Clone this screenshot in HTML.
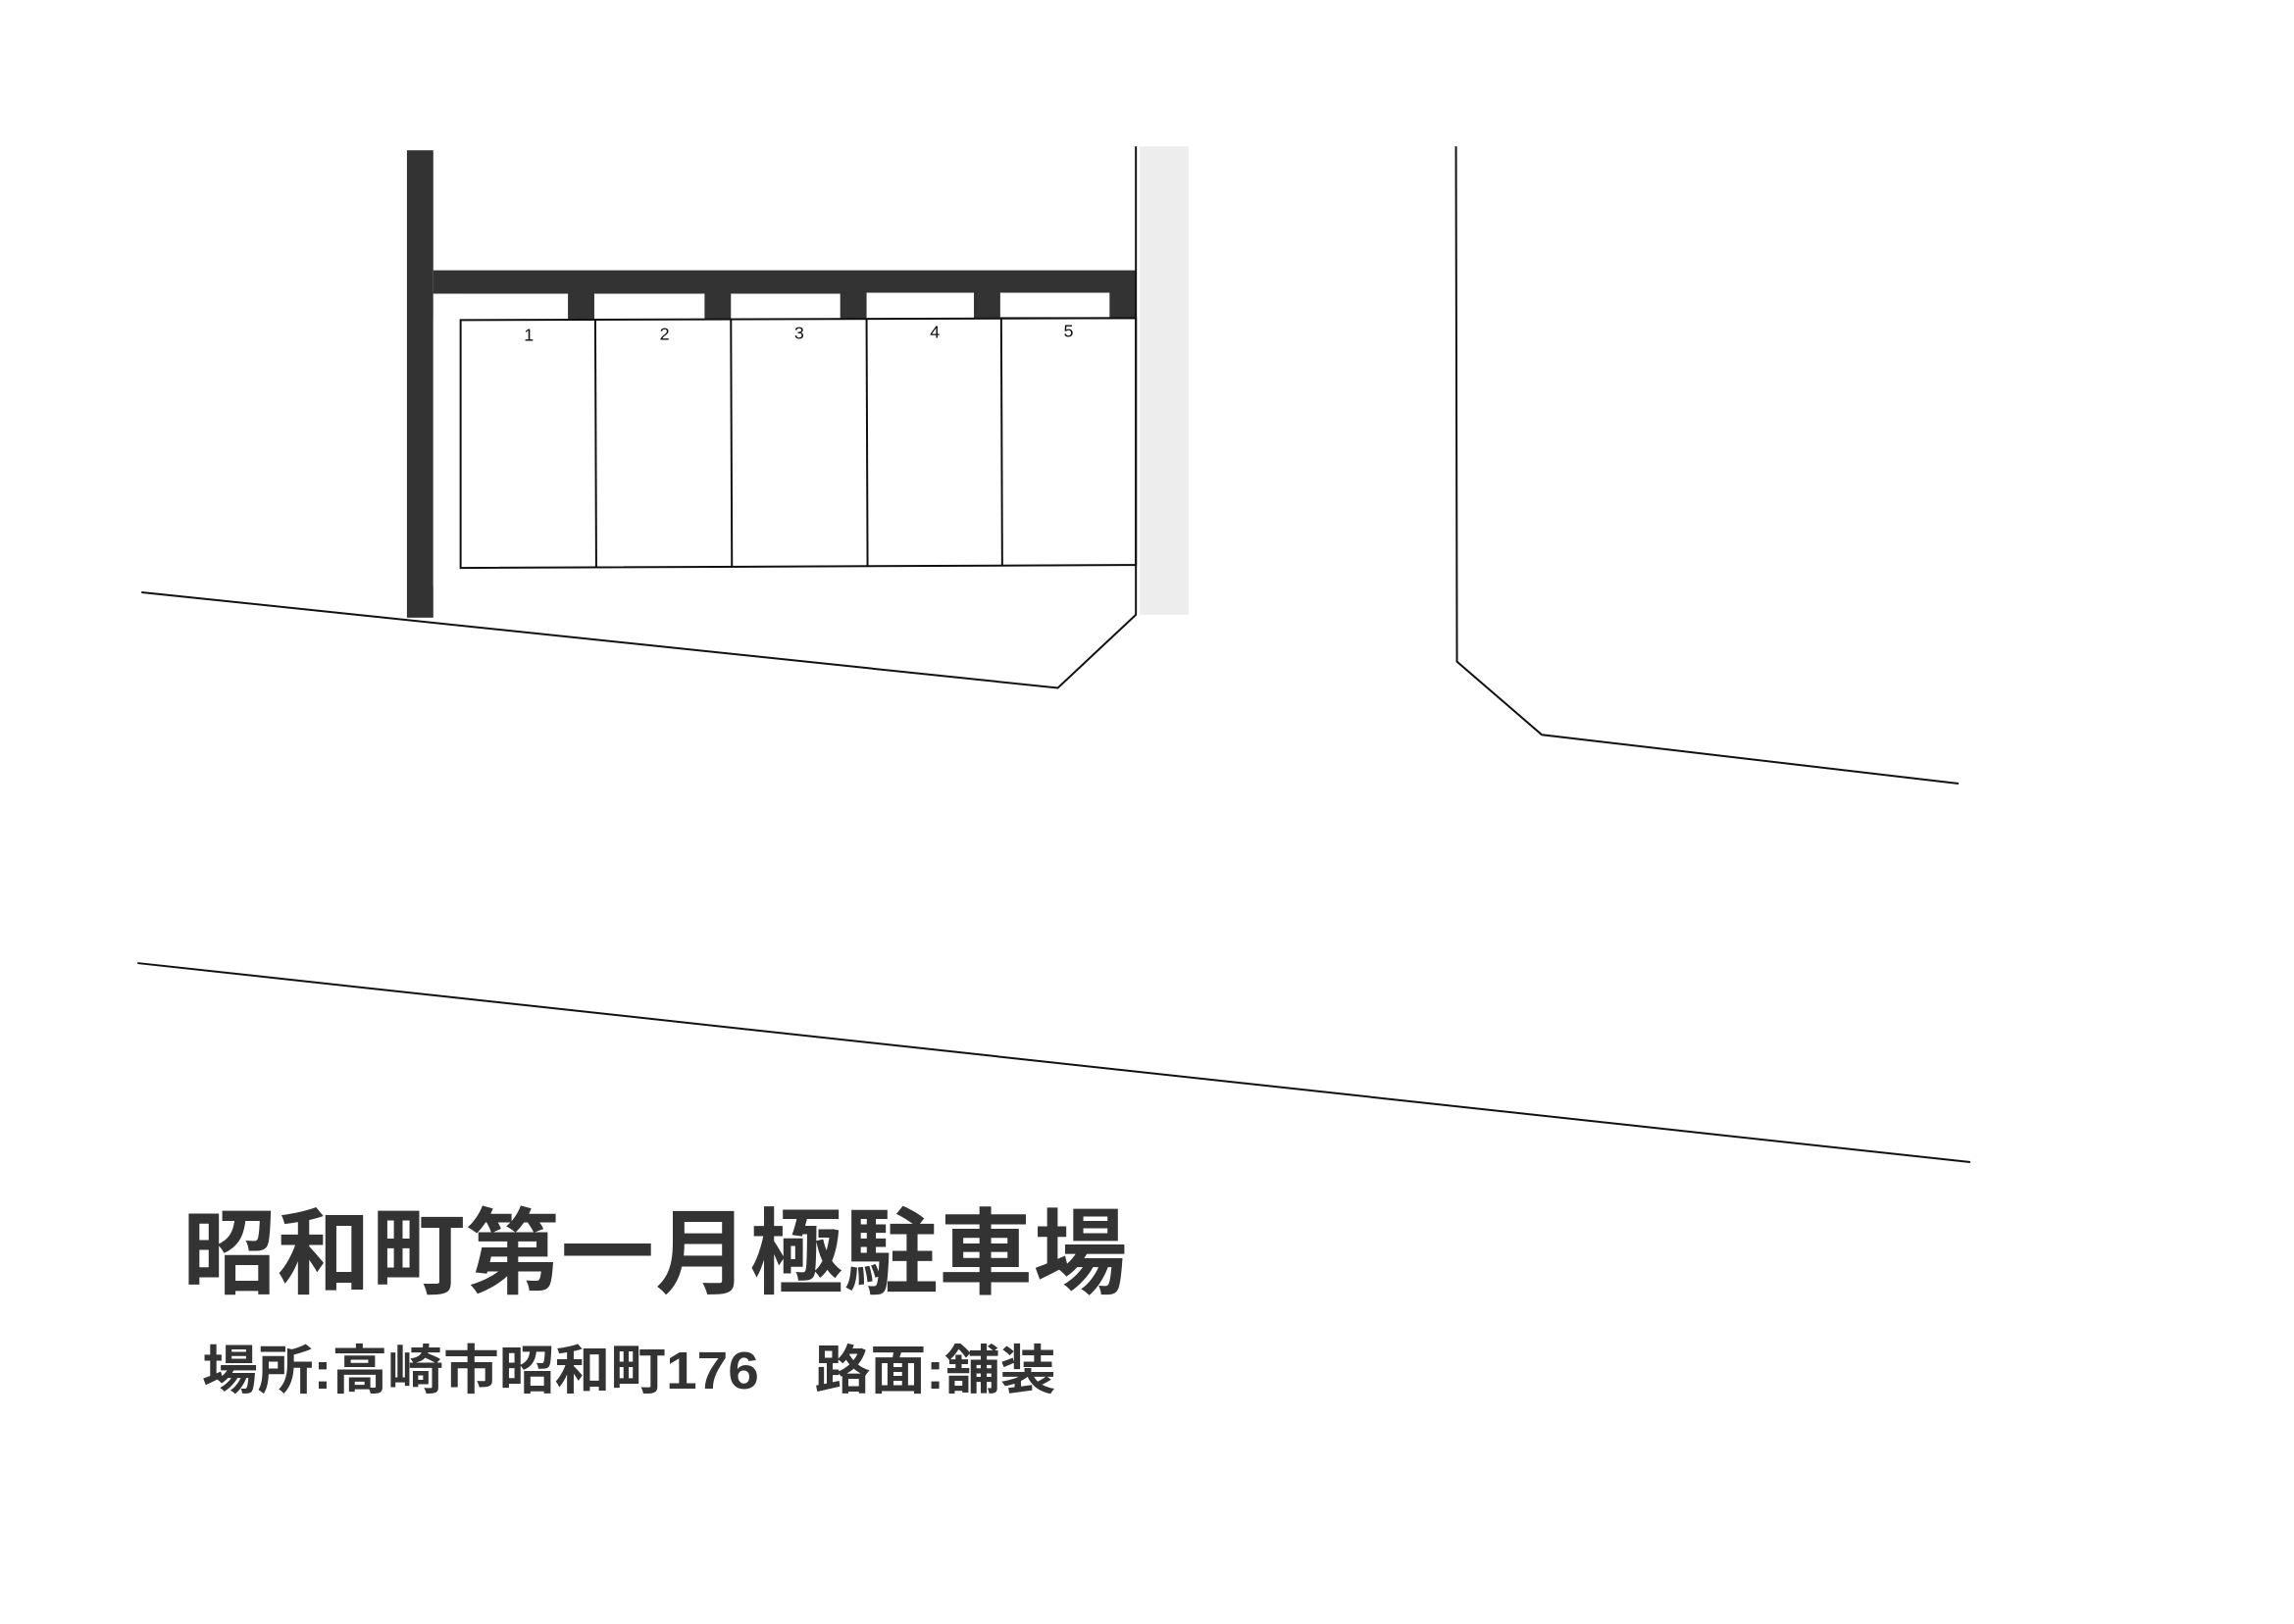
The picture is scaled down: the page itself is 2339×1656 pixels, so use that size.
<!DOCTYPE html>
<html><head><meta charset="utf-8"><style>html,body{margin:0;padding:0;background:#fff}svg{display:block}</style></head>
<body>
<svg width="2339" height="1656" viewBox="0 0 2339 1656" xmlns="http://www.w3.org/2000/svg">
<g transform="scale(0.995)">
<rect x="1168" y="150" width="50" height="480" fill="#ededed"/>
<rect x="417" y="154" width="27" height="479" fill="#333"/>
<rect x="444" y="277" width="720" height="50" fill="#333"/>
<g fill="#fff">
<rect x="446" y="301" width="136" height="27"/>
<rect x="609" y="301" width="113" height="26"/>
<rect x="749" y="301" width="112" height="26"/>
<rect x="888" y="300" width="110" height="26"/>
<rect x="1025" y="300" width="112" height="25"/>
</g>
<rect x="444" y="301" width="28" height="300" fill="#fff"/>
<g stroke="#111" stroke-width="2" fill="none">
<path d="M472 328 L1164 326 L1164 579 L472 582 Z"/>
<line x1="610" y1="328" x2="611" y2="582"/>
<line x1="749" y1="328" x2="750" y2="581"/>
<line x1="888" y1="327" x2="889" y2="580"/>
<line x1="1026" y1="327" x2="1027" y2="579"/>
<path d="M1164 150 L1164 630 L1084 705 L145 607"/>
<path d="M1492 150 L1493 678 L1580 753 L2007 803"/>
<line x1="141" y1="987" x2="2019" y2="1191"/>
</g>
<g font-family="Liberation Sans, sans-serif" font-size="18" fill="#111" text-anchor="middle">
<text x="542" y="349">1</text><text x="681" y="348">2</text><text x="819" y="347">3</text><text x="958" y="346">4</text><text x="1095" y="345">5</text>
</g>
<text x="187" y="1318" font-family="Liberation Sans, Noto Sans CJK JP, sans-serif" font-size="96" font-weight="bold" fill="#333" textLength="968" lengthAdjust="spacing">昭和町第一月極駐車場</text>
<text x="207" y="1423" font-family="Liberation Sans, Noto Sans CJK JP, sans-serif" font-size="54" font-weight="bold" fill="#333" textLength="875" lengthAdjust="spacingAndGlyphs">場所:高崎市昭和町176　路面:舗装</text>
</g>
</svg>
</body></html>
